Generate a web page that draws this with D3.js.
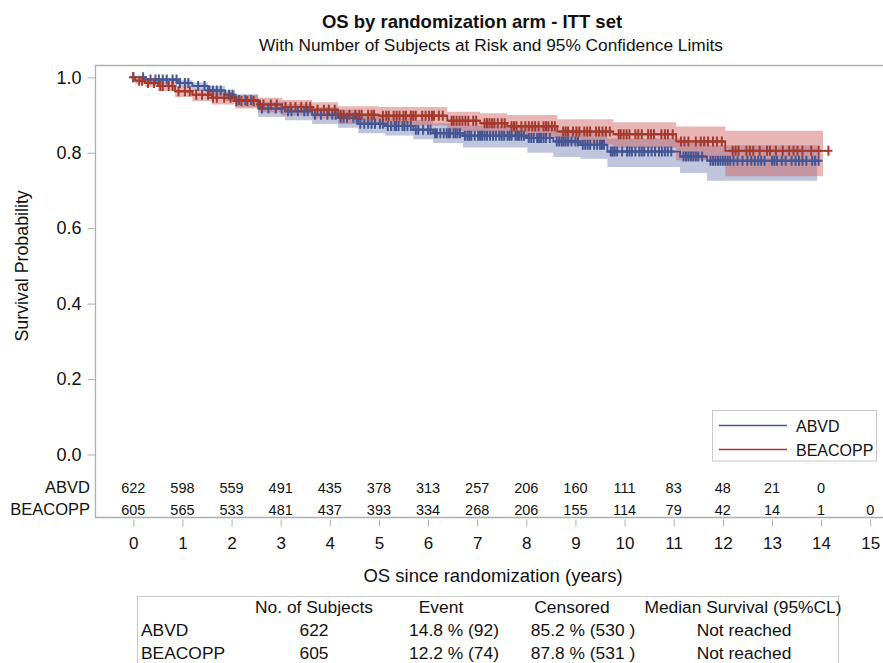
<!DOCTYPE html>
<html><head><meta charset="utf-8">
<script src="https://cdn.jsdelivr.net/npm/d3@7/dist/d3.min.js"></script>
<style>
body{margin:0;background:#fff}
svg{display:block;font-family:"Liberation Sans",Arial,sans-serif}
</style>
</head><body>
<svg id="chart" width="883" height="663"></svg>
<script>
// ---------------- data ----------------
const arms = ["ABVD", "BEACOPP"];

const abvdTime  = [0, 0.24, 0.91, 1.20, 1.52, 1.87, 2.07, 2.54, 3.09, 3.64, 4.17, 4.58, 5.13, 5.70, 6.10, 6.71, 8.02, 8.55, 9.10, 9.65, 11.13, 11.68];
const abvdSurv  = [1.000, 0.994, 0.985, 0.977, 0.965, 0.954, 0.940, 0.917, 0.910, 0.901, 0.893, 0.877, 0.871, 0.861, 0.852, 0.845, 0.839, 0.830, 0.821, 0.803, 0.790, 0.779];
const abvdLower = [1.000, 0.985, 0.974, 0.964, 0.950, 0.937, 0.921, 0.895, 0.886, 0.876, 0.866, 0.852, 0.846, 0.836, 0.826, 0.814, 0.800, 0.789, 0.784, 0.762, 0.746, 0.726];
const abvdUpper = [1.000, 0.998, 0.992, 0.986, 0.977, 0.967, 0.955, 0.935, 0.929, 0.921, 0.914, 0.900, 0.894, 0.886, 0.878, 0.872, 0.868, 0.861, 0.853, 0.838, 0.827, 0.820];
const abvdEnd = 13.98, abvdBandEnd = 13.92;

const beacoppTime  = [0, 0.04, 0.24, 0.50, 0.85, 1.20, 1.60, 2.07, 2.54, 3.03, 3.64, 4.17, 5.00, 6.39, 7.06, 7.61, 8.63, 9.77, 11.05, 12.05];
const beacoppSurv  = [1.000, 0.991, 0.985, 0.977, 0.963, 0.954, 0.946, 0.937, 0.928, 0.921, 0.914, 0.901, 0.898, 0.885, 0.878, 0.870, 0.856, 0.849, 0.830, 0.805];
const beacoppLower = [1.000, 0.982, 0.974, 0.964, 0.948, 0.937, 0.928, 0.917, 0.907, 0.899, 0.891, 0.876, 0.872, 0.857, 0.848, 0.839, 0.822, 0.813, 0.780, 0.738];
const beacoppUpper = [1.000, 0.996, 0.992, 0.986, 0.975, 0.968, 0.961, 0.953, 0.946, 0.940, 0.934, 0.923, 0.921, 0.909, 0.905, 0.900, 0.889, 0.881, 0.8695, 0.858];
const beacoppEnd = 14.15, beacoppBandEnd = 14.04;

const abvdCensor = [0.20,0.35,0.45,0.52,0.60,0.68,0.80,0.88,0.95,1.05,1.12,1.32,1.45,1.55,1.62,1.70,1.78,1.95,2.02,2.15,2.28,2.40,2.62,2.75,2.90,3.02,3.15,3.22,3.35,3.48,3.55,3.70,3.82,3.95,4.05,4.12,4.22,4.28,4.35,4.48,4.55,4.62,4.70,4.78,4.85,4.92,5.02,5.08,5.18,5.25,5.32,5.35,5.40,5.48,5.52,5.58,5.65,5.75,5.80,5.90,6.00,6.05,6.14,6.18,6.25,6.32,6.38,6.42,6.45,6.52,6.56,6.60,6.65,6.75,6.80,6.84,6.88,6.95,7.02,7.06,7.10,7.15,7.20,7.26,7.32,7.38,7.45,7.50,7.55,7.62,7.66,7.70,7.78,7.82,7.85,7.90,7.95,8.05,8.10,8.15,8.22,8.26,8.30,8.35,8.40,8.48,8.62,8.67,8.72,8.76,8.80,8.85,8.92,9.00,9.05,9.15,9.20,9.25,9.30,9.38,9.44,9.50,9.54,9.58,9.72,9.76,9.80,9.85,9.95,10.05,10.10,10.15,10.22,10.30,10.35,10.40,10.48,10.55,10.62,10.70,10.76,10.82,10.88,10.95,11.20,11.25,11.30,11.35,11.40,11.45,11.50,11.58,11.75,11.80,11.85,11.90,11.95,12.00,12.05,12.10,12.15,12.22,12.30,12.40,12.50,12.58,12.65,12.72,12.78,12.85,13.00,13.05,13.10,13.20,13.28,13.40,13.48,13.55,13.62,13.70,13.82,13.88,13.95];
const beacoppCensor = [0.12,0.18,0.30,0.42,0.55,0.60,0.72,0.80,0.92,1.05,1.15,1.28,1.40,1.52,1.62,1.70,1.85,1.98,2.10,2.20,2.32,2.45,2.58,2.65,2.80,2.92,3.10,3.20,3.30,3.42,3.52,3.60,3.75,3.88,3.98,4.10,4.22,4.28,4.40,4.52,4.60,4.65,4.78,4.85,4.90,5.08,5.15,5.20,5.30,5.36,5.42,5.50,5.55,5.65,5.70,5.75,5.88,5.95,6.02,6.08,6.12,6.22,6.30,6.48,6.52,6.58,6.64,6.70,6.76,6.82,6.92,6.98,7.15,7.20,7.25,7.30,7.35,7.42,7.50,7.56,7.70,7.75,7.80,7.90,7.98,8.05,8.12,8.18,8.25,8.35,8.40,8.45,8.52,8.58,8.75,8.80,8.85,8.95,9.02,9.08,9.18,9.24,9.30,9.42,9.48,9.55,9.62,9.70,9.88,9.92,9.98,10.04,10.10,10.22,10.28,10.35,10.48,10.54,10.60,10.75,10.82,10.88,10.98,11.15,11.22,11.30,11.45,11.55,11.62,11.70,11.80,11.88,11.98,12.20,12.26,12.32,12.48,12.55,12.62,12.75,12.90,12.96,13.08,13.22,13.35,13.44,13.52,13.62,13.80,13.95,14.15];

const xTickValues = [0,1,2,3,4,5,6,7,8,9,10,11,12,13,14,15];
const yTickValues = [0.0,0.2,0.4,0.6,0.8,1.0];
const abvdAtRisk    = [622,598,559,491,435,378,313,257,206,160,111,83,48,21,0];
const beacoppAtRisk = [605,565,533,481,437,393,334,268,206,155,114,79,42,14,1,0];

const titleText = "OS by randomization arm - ITT set";
const subtitleText = "With Number of Subjects at Risk and 95% Confidence Limits";
const xTitle = "OS since randomization (years)";
const yTitle = "Survival Probability";

const summaryHeader = ["No. of Subjects", "Event", "Censored", "Median Survival (95%CL)"];
const summaryRows = [
  ["ABVD", "622", "14.8 % (92)", "85.2 % (530 )", "Not reached"],
  ["BEACOPP", "605", "12.2 % (74)", "87.8 % (531 )", "Not reached"]
];

// ---------------- drawing ----------------
const svg = d3.select("#chart");
const x = d3.scaleLinear().domain([0, 15]).range([133.3, 870.2]);
const y = d3.scaleLinear().domain([0, 1]).range([454.5, 77.3]);

const frameLeft = 95.5, frameTop = 65.5, frameBottom = 517.5, frameRight = 890;
const gray = "#a9b0b0";
const textCol = "#111";

const series = [
  {name: arms[0], time: abvdTime, surv: abvdSurv, lower: abvdLower, upper: abvdUpper, end: abvdEnd, bandEnd: abvdBandEnd, censor: abvdCensor, line: "#445694", band: "#6f7eb3"},
  {name: arms[1], time: beacoppTime, surv: beacoppSurv, lower: beacoppLower, upper: beacoppUpper, end: beacoppEnd, bandEnd: beacoppBandEnd, censor: beacoppCensor, line: "#a23a2e", band: "#d05b5b"}
];

// titles
svg.append("text").attr("x", 472).attr("y", 28).attr("text-anchor", "middle")
  .attr("font-size", 18.5).attr("font-weight", "bold").attr("fill", textCol).text(titleText);
svg.append("text").attr("x", 491).attr("y", 51).attr("text-anchor", "middle")
  .attr("font-size", 17.3).attr("fill", textCol).text(subtitleText);

// frame
svg.append("path").attr("d", `M${frameRight},${frameTop}H${frameLeft}V${frameBottom}H${frameRight}`)
  .attr("fill", "none").attr("stroke", gray).attr("stroke-width", 1.3);

// y axis ticks + labels
const yAxis = d3.axisLeft(y).tickValues(yTickValues).tickFormat(d3.format(".1f")).tickSize(8).tickPadding(6);
const gy = svg.append("g").attr("transform", `translate(${frameLeft},0)`).call(yAxis);
gy.select(".domain").remove();
gy.selectAll("line").attr("stroke", gray);
gy.selectAll("text").attr("font-size", 18).attr("fill", textCol).attr("font-family", "Liberation Sans, Arial, sans-serif");

// x axis ticks + labels
const xAxis = d3.axisBottom(x).tickValues(xTickValues).tickFormat(d3.format("d")).tickSize(7).tickPadding(10);
const gx = svg.append("g").attr("transform", `translate(0,${frameBottom + 2})`).call(xAxis);
gx.select(".domain").remove();
gx.selectAll("line").attr("stroke", gray);
gx.selectAll("text").attr("font-size", 17).attr("fill", textCol).attr("font-family", "Liberation Sans, Arial, sans-serif");

// axis titles
svg.append("text").attr("x", 493).attr("y", 582).attr("text-anchor", "middle")
  .attr("font-size", 18.5).attr("fill", textCol).text(xTitle);
svg.append("text").attr("transform", `translate(28,${(y(0) + y(1)) / 2}) rotate(-90)`)
  .attr("text-anchor", "middle").attr("font-size", 17.8).attr("fill", textCol).text(yTitle);

// bands
series.forEach(s => {
  const pts = s.time.map((t, i) => ({t, lo: s.lower[i], hi: s.upper[i]}));
  pts.push({t: s.bandEnd, lo: s.lower[s.lower.length - 1], hi: s.upper[s.upper.length - 1]});
  const area = d3.area().curve(d3.curveStepAfter).x(d => x(d.t)).y0(d => y(d.lo)).y1(d => y(d.hi));
  svg.append("path").datum(pts).attr("d", area).attr("fill", s.band).attr("fill-opacity", 0.45);
});

// lines and censor marks
series.forEach(s => {
  const pts = s.time.map((t, i) => ({t, v: s.surv[i]}));
  pts.push({t: s.end, v: s.surv[s.surv.length - 1]});
  const line = d3.line().curve(d3.curveStepAfter).x(d => x(d.t)).y(d => y(d.v));
  svg.append("path").datum(pts).attr("d", line).attr("fill", "none")
    .attr("stroke", s.line).attr("stroke-width", 1.8);
  const survAt = t => s.surv[Math.max(0, d3.bisectRight(s.time, t) - 1)];
  const marks = [0].concat(s.censor);
  svg.append("g").selectAll("path").data(marks).join("path")
    .attr("d", t => {
      const cx = x(t), cy = y(survAt(t));
      return `M${cx - 4},${cy}H${cx + 4}M${cx},${cy - 5}V${cy + 5}`;
    })
    .attr("stroke", s.line).attr("stroke-width", 2).attr("fill", "none");
});

// legend
const lg = svg.append("g");
lg.append("rect").attr("x", 712.5).attr("y", 410.5).attr("width", 164).attr("height", 50.5)
  .attr("fill", "#fff").attr("stroke", "#c8c8c8");
series.forEach((s, i) => {
  const ly = 425.5 + i * 24;
  lg.append("line").attr("x1", 719).attr("x2", 787).attr("y1", ly).attr("y2", ly)
    .attr("stroke", s.line).attr("stroke-width", 1.5);
  lg.append("text").attr("x", 796).attr("y", ly + 6).attr("font-size", 16).attr("fill", textCol).text(s.name);
});

// at-risk table
const riskRows = [abvdAtRisk, beacoppAtRisk];
riskRows.forEach((row, r) => {
  const by = 492.5 + r * 22;
  svg.append("text").attr("x", 90).attr("y", by).attr("text-anchor", "end")
    .attr("font-size", 16.5).attr("fill", textCol).text(arms[r]);
  svg.append("g").selectAll("text").data(row).join("text")
    .attr("x", (d, i) => x(xTickValues[i])).attr("y", by).attr("text-anchor", "middle")
    .attr("font-size", 14.5).attr("fill", textCol).text(d => d);
});

// summary table
const tb = svg.append("g");
tb.append("rect").attr("x", 137.5).attr("y", 596.5).attr("width", 701).attr("height", 80)
  .attr("fill", "none").attr("stroke", "#c8c8c8");
const headerX = [314, 441, 572, 743];
summaryHeader.forEach((h, i) => {
  tb.append("text").attr("x", headerX[i]).attr("y", 613).attr("text-anchor", "middle")
    .attr("font-size", 17.4).attr("fill", textCol).text(h);
});
const valueX = [141, 314, 454, 583, 744];
summaryRows.forEach((row, r) => {
  row.forEach((v, i) => {
    tb.append("text").attr("x", valueX[i]).attr("y", 636 + r * 23)
      .attr("text-anchor", i === 0 ? "start" : "middle")
      .attr("font-size", 17.4).attr("fill", textCol).text(v);
  });
});
</script>
</body></html>
